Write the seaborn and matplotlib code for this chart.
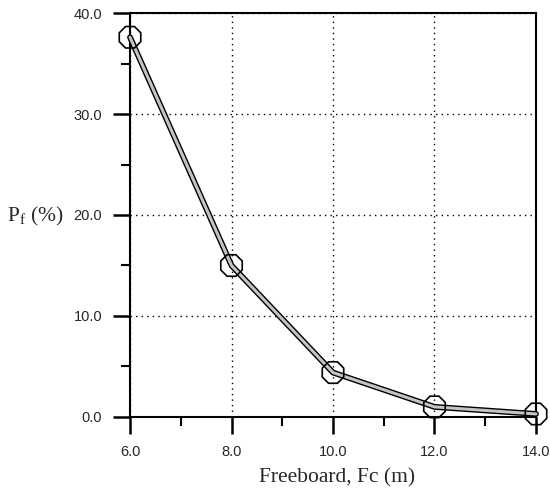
import numpy as np
import pandas as pd
import seaborn as sns
import matplotlib
matplotlib.use('Agg')
import matplotlib.pyplot as plt
from matplotlib.ticker import MultipleLocator, FormatStrFormatter

# data
freeboard = [6.0, 8.0, 10.0, 12.0, 14.0]
pf = [37.6, 15.0, 4.4, 1.0, 0.3]

df = pd.DataFrame({'Fc': freeboard, 'Pf': pf})

sns.set_style('white')
plt.rcParams['font.family'] = ['Liberation Sans', 'DejaVu Sans']

fig = plt.figure(figsize=(5.5, 4.93), dpi=100)
ax = fig.add_axes([0.2364, 0.1542, 0.7381, 0.8194])

# double line look: black outline with a grey core
sns.lineplot(data=df, x='Fc', y='Pf', ax=ax, color='black', linewidth=4.2,
             zorder=3, clip_on=False)
sns.lineplot(data=df, x='Fc', y='Pf', ax=ax, color='#c4c4c4', linewidth=2.2,
             zorder=4, clip_on=False)
sns.scatterplot(data=df, x='Fc', y='Pf', ax=ax, marker='8', s=280,
                facecolor='none', edgecolor='black', linewidth=1.2, zorder=5,
                clip_on=False)

ax.set_xlim(6, 14)
ax.set_ylim(0, 40)
ax.xaxis.set_major_locator(MultipleLocator(2))
ax.xaxis.set_minor_locator(MultipleLocator(1))
ax.yaxis.set_major_locator(MultipleLocator(10))
ax.yaxis.set_minor_locator(MultipleLocator(5))
ax.xaxis.set_major_formatter(FormatStrFormatter('%.1f'))
ax.yaxis.set_major_formatter(FormatStrFormatter('%.1f'))

ax.grid(True, which='major', linestyle=(0, (1, 3)), color='black',
        linewidth=1.0)
for s in ax.spines.values():
    s.set_color('black')
    s.set_linewidth(1.5)

ax.tick_params(axis='both', which='major', direction='out', length=12,
               width=1.8, labelsize=10.5, color='black', pad=8)
ax.tick_params(axis='both', which='minor', direction='out', length=6.5,
               width=1.5, color='black')
ax.tick_params(bottom=True, left=True, which='both')

ax.set_xlabel('Freeboard, Fc (m)', family=['Liberation Serif'], fontsize=15.5)
ax.set_ylabel('P$_\\mathregular{f}$ (%)', family=['Liberation Serif'],
              fontsize=15.5, rotation=0, va='center', ha='center')
ax.xaxis.set_label_coords(0.511, -0.151)
ax.yaxis.set_label_coords(-0.234, 0.4975)
ax.xaxis.label.set_va('center')

fig.savefig('out.png', dpi=100)
